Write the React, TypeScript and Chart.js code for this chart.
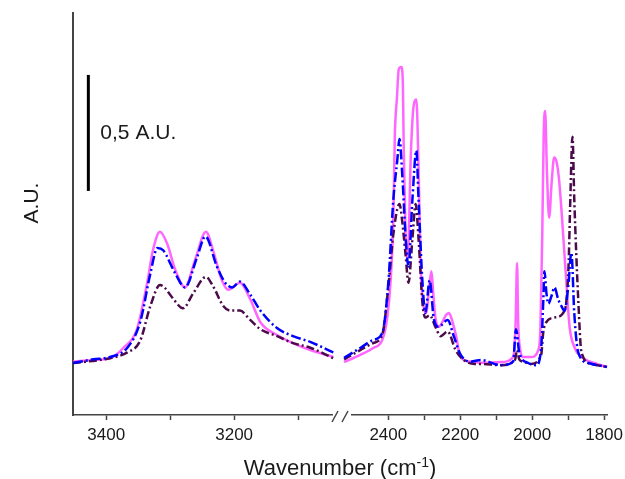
import React, { useEffect, useRef } from 'react';
import { Chart, registerables } from 'chart.js';

Chart.register(...registerables);

// ---------- Data: left window (3450–3047 cm-1) ----------
const LEFT_PINK_WN = [3452, 3420, 3394, 3373, 3352, 3336, 3327, 3316, 3305, 3292, 3277, 3261, 3244, 3233, 3219, 3209, 3191, 3175, 3159, 3133, 3108, 3081, 3045];
const LEFT_PINK_AU = [0.23, 0.237, 0.245, 0.29, 0.37, 0.57, 0.71, 0.79, 0.74, 0.625, 0.55, 0.67, 0.79, 0.71, 0.58, 0.54, 0.57, 0.5, 0.4, 0.345, 0.31, 0.28, 0.25];

const LEFT_BLUE_WN = [3452, 3420, 3394, 3367, 3347, 3331, 3320, 3311, 3292, 3277, 3258, 3245, 3227, 3214, 3203, 3191, 3175, 3159, 3133, 3108, 3081, 3045];
const LEFT_BLUE_AU = [0.224, 0.24, 0.25, 0.29, 0.4, 0.61, 0.72, 0.71, 0.61, 0.55, 0.68, 0.77, 0.64, 0.57, 0.55, 0.575, 0.52, 0.45, 0.375, 0.34, 0.315, 0.27];

const LEFT_PURPLE_WN = [3452, 3394, 3367, 3347, 3331, 3316, 3309, 3295, 3280, 3264, 3244, 3233, 3217, 3206, 3191, 3175, 3159, 3133, 3108, 3081, 3045];
const LEFT_PURPLE_AU = [0.224, 0.245, 0.27, 0.32, 0.47, 0.56, 0.55, 0.5, 0.46, 0.525, 0.595, 0.555, 0.47, 0.45, 0.45, 0.41, 0.37, 0.34, 0.31, 0.29, 0.245];

// ---------- Data: right window (2500–1792 cm-1) ----------
const RIGHT_PINK_WN = [2523, 2478, 2442, 2417, 2403, 2394, 2386, 2382, 2376, 2371, 2364, 2360, 2357, 2352, 2346, 2337, 2329, 2322, 2316, 2310, 2302, 2295, 2285, 2280, 2275, 2269, 2260, 2250, 2240, 2232, 2225, 2213, 2199, 2171, 2143, 2087, 2053, 2046, 2042, 2039, 2033, 2025, 2003, 1983, 1977, 1972, 1968, 1964, 1959, 1953, 1946, 1939, 1932, 1925, 1914, 1905, 1896, 1882, 1863, 1827, 1792];
const RIGHT_PINK_AU = [0.228, 0.259, 0.289, 0.323, 0.42, 0.57, 0.85, 1.2, 1.37, 1.49, 1.5, 1.45, 1.14, 0.77, 0.68, 1.14, 1.34, 1.36, 1.07, 0.64, 0.47, 0.44, 0.57, 0.62, 0.52, 0.42, 0.38, 0.4, 0.43, 0.44, 0.42, 0.35, 0.25, 0.23, 0.225, 0.228, 0.25, 0.4, 0.655, 0.4, 0.28, 0.25, 0.25, 0.28, 0.38, 0.78, 1.21, 1.31, 1.05, 0.85, 1.0, 1.11, 1.09, 1.01, 0.78, 0.57, 0.38, 0.29, 0.25, 0.224, 0.207];

const RIGHT_BLUE_WN = [2523, 2478, 2442, 2417, 2400, 2386, 2375, 2369, 2361, 2352, 2344, 2333, 2322, 2316, 2305, 2297, 2285, 2274, 2260, 2235, 2218, 2199, 2171, 2143, 2087, 2053, 2045, 2036, 2011, 1989, 1975, 1969, 1966, 1960, 1955, 1947, 1938, 1928, 1919, 1910, 1900, 1891, 1883, 1872, 1843, 1792];
const RIGHT_BLUE_AU = [0.246, 0.289, 0.323, 0.353, 0.57, 0.93, 1.1, 1.19, 1.03, 0.77, 0.64, 0.93, 1.14, 0.93, 0.57, 0.44, 0.58, 0.42, 0.38, 0.41, 0.34, 0.26, 0.23, 0.237, 0.215, 0.23, 0.37, 0.27, 0.224, 0.215, 0.29, 0.5, 0.62, 0.52, 0.48, 0.51, 0.55, 0.5, 0.47, 0.45, 0.55, 0.7, 0.44, 0.27, 0.224, 0.207];

const RIGHT_PURPLE_WN = [2523, 2478, 2442, 2417, 2400, 2386, 2369, 2361, 2352, 2344, 2333, 2324, 2316, 2305, 2297, 2285, 2269, 2255, 2235, 2213, 2190, 2160, 2143, 2087, 2048, 2042, 2036, 2025, 2003, 1975, 1969, 1961, 1938, 1910, 1899, 1894, 1888, 1883, 1872, 1863, 1835, 1792];
const RIGHT_PURPLE_AU = [0.24, 0.28, 0.31, 0.345, 0.55, 0.78, 0.91, 0.83, 0.69, 0.57, 0.76, 0.91, 0.76, 0.48, 0.42, 0.43, 0.38, 0.34, 0.36, 0.28, 0.237, 0.22, 0.22, 0.215, 0.237, 0.28, 0.24, 0.23, 0.22, 0.26, 0.36, 0.4, 0.42, 0.45, 0.64, 0.93, 1.2, 0.93, 0.5, 0.27, 0.22, 0.207];

// ---------- Axes / labels ----------
const LEFT_MIN = 3047;
const LEFT_MAX = 3452;
const RIGHT_MIN = 1792;
const RIGHT_MAX = 2501;
const Y_MIN = 0;
const Y_MAX = 1.733;
const LEFT_TICKS = [3400, 3300, 3200, 3100];
const RIGHT_TICKS = [2400, 2300, 2200, 2100, 2000, 1900, 1800];
const LEFT_LABELED_TICKS = [3400, 3200];
const RIGHT_LABELED_TICKS = [2400, 2200, 2000, 1800];
const X_TITLE_MAIN = 'Wavenumber (cm';
const X_TITLE_SUP = '-1';
const X_TITLE_END = ')';
const Y_TITLE = 'A.U.';
const SCALE_BAR_LABEL = '0,5 A.U.';
const SCALE_BAR_START = 0.966;
const SCALE_BAR_LENGTH = 0.5;
const SCALE_BAR_WN = 3428;
const SCALE_LABEL_AU = 1.19;

const PINK = '#FF66FF';
const BLUE = '#0000FF';
const PURPLE = '#4B0B4B';
const AXIS = '#444444';
const TEXT = '#1a1a1a';
const FONT = '"Liberation Sans", Arial, sans-serif';

const pairs = (xs: number[], ys: number[]) => xs.map((x, i) => ({ x, y: ys[i] }));

export default function App() {
  const ref = useRef<HTMLCanvasElement | null>(null);

  useEffect(() => {
    const canvas = ref.current;
    if (!canvas) return;

    const annot = {
      id: 'annot',
      afterDraw(chart: any) {
        const ctx = chart.ctx;
        const xl = chart.scales.xLeft;
        const ys = chart.scales.y;
        const axisY = chart.chartArea.bottom;
        ctx.save();
        // axis break marks
        ctx.strokeStyle = AXIS;
        ctx.lineWidth = 1.5;
        const bx = xl.right;
        ctx.beginPath();
        ctx.moveTo(bx, axisY + 7);
        ctx.lineTo(bx + 6, axisY - 4);
        ctx.moveTo(bx + 10, axisY + 7);
        ctx.lineTo(bx + 16, axisY - 4);
        ctx.stroke();

        // scale bar
        const sx = xl.getPixelForValue(SCALE_BAR_WN);
        ctx.strokeStyle = '#000';
        ctx.lineWidth = 3;
        ctx.beginPath();
        ctx.moveTo(sx, ys.getPixelForValue(SCALE_BAR_START));
        ctx.lineTo(sx, ys.getPixelForValue(SCALE_BAR_START + SCALE_BAR_LENGTH));
        ctx.stroke();

        ctx.fillStyle = TEXT;
        ctx.font = `21px ${FONT}`;
        ctx.textAlign = 'left';
        ctx.textBaseline = 'alphabetic';
        ctx.fillText(SCALE_BAR_LABEL, sx + 12, ys.getPixelForValue(SCALE_LABEL_AU));

        // y title
        ctx.save();
        ctx.translate(32, 203);
        ctx.rotate(-Math.PI / 2);
        ctx.textAlign = 'center';
        ctx.textBaseline = 'middle';
        ctx.fillText(Y_TITLE, 0, 0);
        ctx.restore();

        // x title with superscript
        ctx.font = `22px ${FONT}`;
        const w1 = ctx.measureText(X_TITLE_MAIN).width;
        const w3 = ctx.measureText(X_TITLE_END).width;
        ctx.font = `14px ${FONT}`;
        const w2 = ctx.measureText(X_TITLE_SUP).width;
        const total = w1 + w2 + w3;
        let tx = 340 - total / 2;
        const base = 475;
        ctx.textAlign = 'left';
        ctx.font = `22px ${FONT}`;
        ctx.fillText(X_TITLE_MAIN, tx, base);
        tx += w1;
        ctx.font = `14px ${FONT}`;
        ctx.fillText(X_TITLE_SUP, tx, base - 8);
        tx += w2;
        ctx.font = `22px ${FONT}`;
        ctx.fillText(X_TITLE_END, tx, base);
        ctx.restore();
      },
    };

    const line = (label: string, data: any[], color: string, axis: string, dash: number[]) => ({
      label,
      data,
      xAxisID: axis,
      yAxisID: 'y',
      borderColor: color,
      backgroundColor: color,
      borderWidth: 2.5,
      borderDash: dash,
      pointRadius: 0,
      fill: false,
      clip: false,
      cubicInterpolationMode: 'monotone' as const,
    });

    const blueDash = [10, 3, 2, 3];
    const purpleDash = [8, 3, 2, 3];

    const xTicks = (labeled: number[]) => ({
      autoSkip: false,
      maxRotation: 0,
      padding: 5,
      color: TEXT,
      font: { size: 17, family: FONT },
      callback: (v: any) => (labeled.includes(Math.round(Number(v))) ? String(Math.round(Number(v))) : ''),
    });

    const setTicks = (values: number[]) => (s: any) => {
      s.ticks = values.map((v) => ({ value: v }));
    };

    const fitX = (s: any) => {
      s.height = 64;
      s.paddingLeft = 0;
      s.paddingRight = 0;
    };

    const chart = new Chart(canvas, {
      type: 'line',
      data: {
        datasets: [
          line('blue-left', pairs(LEFT_BLUE_WN, LEFT_BLUE_AU), BLUE, 'xLeft', blueDash),
          line('blue-right', pairs(RIGHT_BLUE_WN, RIGHT_BLUE_AU), BLUE, 'xRight', blueDash),
          line('purple-left', pairs(LEFT_PURPLE_WN, LEFT_PURPLE_AU), PURPLE, 'xLeft', purpleDash),
          line('purple-right', pairs(RIGHT_PURPLE_WN, RIGHT_PURPLE_AU), PURPLE, 'xRight', purpleDash),
          line('pink-left', pairs(LEFT_PINK_WN, LEFT_PINK_AU), PINK, 'xLeft', []),
          line('pink-right', pairs(RIGHT_PINK_WN, RIGHT_PINK_AU), PINK, 'xRight', []),
        ],
      },
      options: {
        animation: false,
        responsive: false,
        devicePixelRatio: 1,
        layout: { padding: { top: 13, right: 18, left: 0, bottom: 0 } },
        plugins: { legend: { display: false }, tooltip: { enabled: false } },
        scales: {
          xLeft: {
            type: 'linear',
            position: 'bottom',
            stack: 'x',
            stackWeight: 259,
            reverse: true,
            min: LEFT_MIN,
            max: LEFT_MAX,
            afterBuildTicks: setTicks(LEFT_TICKS),
            ticks: xTicks(LEFT_LABELED_TICKS),
            grid: { drawOnChartArea: false, drawTicks: true, tickLength: 5, tickColor: AXIS, tickWidth: 1.5 },
            border: { display: true, color: AXIS, width: 1.5 },
            afterFit: fitX,
          },
          xGap: {
            type: 'linear',
            position: 'bottom',
            stack: 'x',
            stackWeight: 20,
            min: 0,
            max: 1,
            ticks: { display: false },
            grid: { display: false },
            border: { display: false },
            afterFit: fitX,
          },
          xRight: {
            type: 'linear',
            position: 'bottom',
            stack: 'x',
            stackWeight: 255,
            reverse: true,
            min: RIGHT_MIN,
            max: RIGHT_MAX,
            afterBuildTicks: setTicks(RIGHT_TICKS),
            ticks: xTicks(RIGHT_LABELED_TICKS),
            grid: { drawOnChartArea: false, drawTicks: true, tickLength: 5, tickColor: AXIS, tickWidth: 1.5 },
            border: { display: true, color: AXIS, width: 1.5 },
            afterFit: fitX,
          },
          y: {
            type: 'linear',
            position: 'left',
            min: Y_MIN,
            max: Y_MAX,
            ticks: { display: false },
            grid: { drawOnChartArea: false, drawTicks: false },
            border: { display: true, color: AXIS, width: 2 },
            afterFit: (s: any) => { s.width = 73; s.paddingTop = 0; s.paddingBottom = 0; },
          },
        },
      } as any,
      plugins: [annot],
    });

    return () => chart.destroy();
  }, []);

  return (
    <div style={{ position: 'fixed', left: 0, top: 0, width: 625, height: 479, background: '#fff' }}>
      <canvas ref={ref} width={625} height={479} style={{ display: 'block' }} />
    </div>
  );
}
